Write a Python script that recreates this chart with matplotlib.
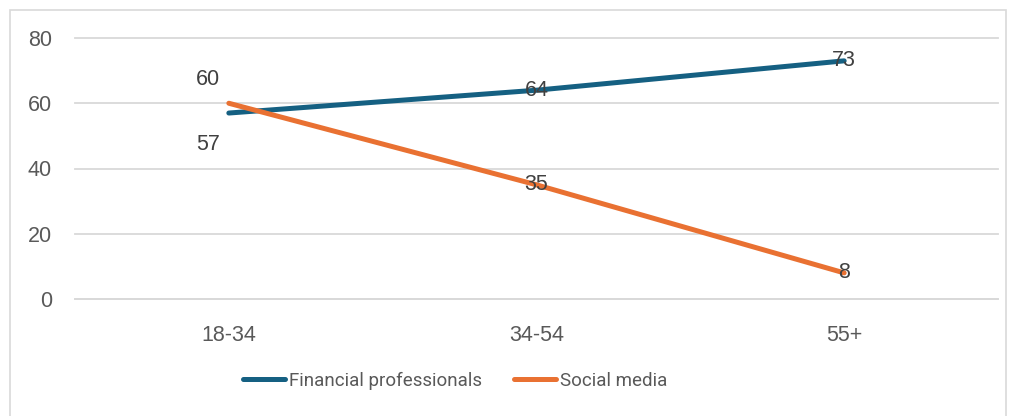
import matplotlib.pyplot as plt
from matplotlib.patches import Rectangle

AGE_GROUPS = ["18-34", "34-54", "55+"]
FINANCIAL_PROS = [57, 64, 73]
SOCIAL_MEDIA = [60, 35, 8]

BLUE = "#156082"
ORANGE = "#E97132"
GREY_TEXT = "#595959"
GRID = "#D9D9D9"

plt.rcParams["font.family"] = ["Liberation Sans", "DejaVu Sans"]

fig = plt.figure(figsize=(10.16, 4.16), dpi=100)
ax = fig.add_axes([75 / 1016, 1 - 299 / 416, 923 / 1016, 261 / 416])

# chart frame
fig.patches.append(Rectangle((10 / 1016, -0.1), 996 / 1016, 1.1 - 10 / 416,
                             transform=fig.transFigure, fill=False,
                             edgecolor=GRID, linewidth=1.2))

x = list(range(len(AGE_GROUPS)))
ax.plot(x, FINANCIAL_PROS, color=BLUE, lw=3.6, solid_capstyle="round",
        label="Financial professionals", zorder=3)
ax.plot(x, SOCIAL_MEDIA, color=ORANGE, lw=3.6, solid_capstyle="round",
        label="Social media", zorder=3)

# data labels
px = 0.72
for i, v in enumerate(FINANCIAL_PROS):
    off = (-21 * px, -31 * px) if i == 0 else (0, 0)
    ax.annotate(str(v), (i, v), xytext=off, textcoords="offset points",
                ha="center", va="center", fontsize=15.5, color="#404040", zorder=4)
for i, v in enumerate(SOCIAL_MEDIA):
    off = (-21 * px, 24 * px) if i == 0 else (0, 0)
    ax.annotate(str(v), (i, v), xytext=off, textcoords="offset points",
                ha="center", va="center", fontsize=15.5, color="#404040", zorder=4)

ax.set_xlim(-0.5, 2.5)
ax.set_ylim(0, 80)
ax.set_yticks([0, 20, 40, 60, 80])
ax.set_xticks(x)
ax.set_xticklabels(AGE_GROUPS)
ax.grid(axis="y", color=GRID, lw=1.3)
for gl in ax.get_ygridlines():
    gl.set_clip_on(False)
ax.set_axisbelow(True)
for s in ax.spines.values():
    s.set_visible(False)
ax.spines["bottom"].set_visible(True)
ax.spines["bottom"].set_color(GRID)
ax.spines["bottom"].set_linewidth(1.3)
ax.tick_params(length=0, labelsize=15.5, labelcolor=GREY_TEXT)
ax.tick_params(axis="y", pad=16.5)
ax.tick_params(axis="x", pad=19)

leg = fig.legend(loc="center", bbox_to_anchor=(455 / 1016, 1 - 381 / 416),
                 ncol=2, frameon=False, handlelength=2.25, handletextpad=0.2,
                 columnspacing=1.7,
                 prop={"family": ["Roboto", "DejaVu Sans"], "size": 13.5})
for t in leg.get_texts():
    t.set_color(GREY_TEXT)

fig.savefig("out.png", dpi=100)
